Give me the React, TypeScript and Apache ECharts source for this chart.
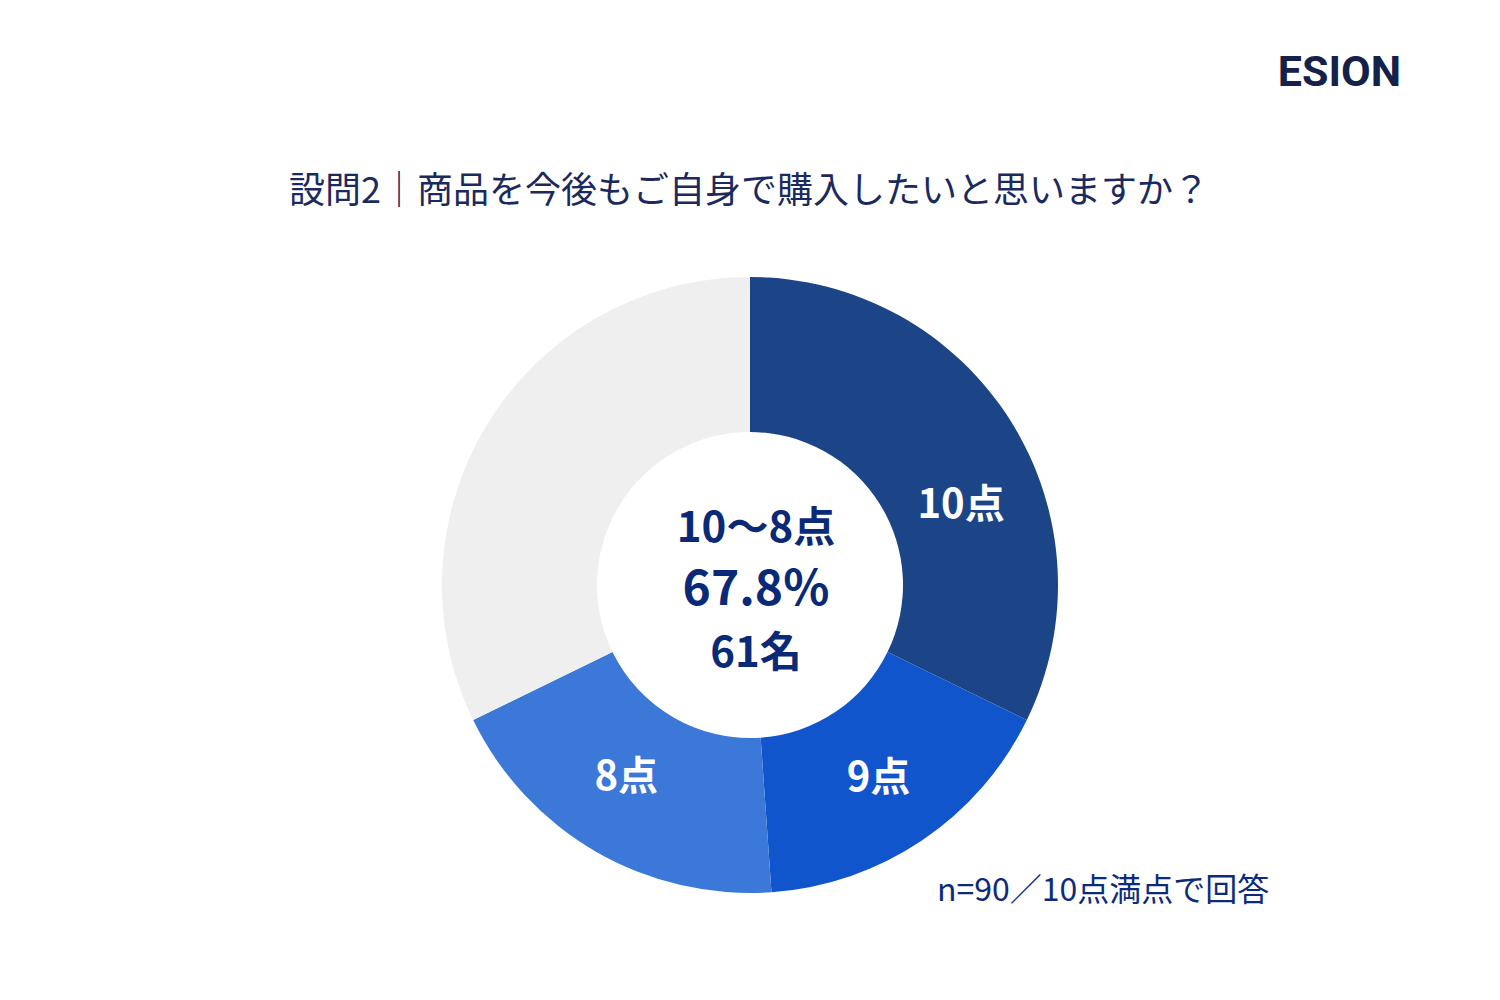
import React, { useEffect, useRef } from "react";
import * as echarts from "echarts";

const categories = ["10点", "9点", "8点", "7点以下"];
const counts = [29, 15, 17, 29];
const colors = ["#1c4587", "#1155cc", "#3c78d8", "#efefef"];
const titleText = "設問2｜商品を今後もご自身で購入したいと思いますか？";
const centerRange = "10〜8点";
const noteText = "n=90／10点満点で回答";
const brand = "ESION";

const FONT = "'Noto Sans CJK JP', 'Noto Sans', sans-serif";
const labelOffsets = [[13, 40], [-2, -5], [-7, -14], [0, 0]];

export default function App() {
  const ref = useRef<HTMLDivElement>(null);
  useEffect(() => {
    document.body.style.margin = "0";
    if (!ref.current) return;
    const chart = echarts.init(ref.current, null, { renderer: "svg" });
    const total = counts.reduce((a, b) => a + b, 0);
    const top = counts[0] + counts[1] + counts[2];
    const pct = ((top / total) * 100).toFixed(1) + "%";
    const data = categories.map((name, i) => ({
      name,
      value: counts[i],
      itemStyle: { color: colors[i] },
      label: i === 3 ? { show: false } : { show: true, offset: labelOffsets[i] },
    }));
    chart.setOption({
      animation: false,
      backgroundColor: "#ffffff",
      series: [
        {
          type: "pie",
          center: [750, 585],
          radius: [153, 308],
          startAngle: 90,
          clockwise: true,
          avoidLabelOverlap: false,
          silent: true,
          label: {
            position: "inside",
            formatter: "{b}",
            color: "#ffffff",
            fontSize: 40,
            fontWeight: "bold",
            fontFamily: FONT,
          },
          labelLine: { show: false },
          itemStyle: { borderWidth: 0 },
          data,
        },
      ],
      graphic: [
        {
          type: "text",
          x: 1401,
          y: 71,
          style: {
            text: brand,
            textAlign: "right",
            textVerticalAlign: "middle",
            fontSize: 43,
            fontWeight: "bold",
            fontFamily: "Roboto, 'DejaVu Sans', sans-serif",
            fill: "#14224a",
          },
        },
        {
          type: "text",
          x: 749,
          y: 187,
          style: {
            text: titleText,
            textAlign: "center",
            textVerticalAlign: "middle",
            fontSize: 36,
            fontFamily: FONT,
            fill: "#1b2a5e",
          },
        },
        {
          type: "text",
          x: 756,
          y: 523,
          style: {
            text: centerRange,
            textAlign: "center",
            textVerticalAlign: "middle",
            fontSize: 42,
            fontWeight: "bold",
            fontFamily: FONT,
            fill: "#0a2a78",
          },
        },
        {
          type: "text",
          x: 756,
          y: 584,
          style: {
            text: pct,
            textAlign: "center",
            textVerticalAlign: "middle",
            fontSize: 48,
            fontWeight: "bold",
            fontFamily: FONT,
            fill: "#0a2a78",
          },
        },
        {
          type: "text",
          x: 756,
          y: 648,
          style: {
            text: top + "名",
            textAlign: "center",
            textVerticalAlign: "middle",
            fontSize: 42,
            fontWeight: "bold",
            fontFamily: FONT,
            fill: "#0a2a78",
          },
        },
        {
          type: "text",
          x: 937,
          y: 887,
          style: {
            text: noteText,
            textAlign: "left",
            textVerticalAlign: "middle",
            fontSize: 32,
            fontFamily: FONT,
            fill: "#0d2b7c",
          },
        },
      ],
    });
    return () => chart.dispose();
  }, []);
  return <div ref={ref} style={{ width: 1500, height: 1000 }} />;
}
